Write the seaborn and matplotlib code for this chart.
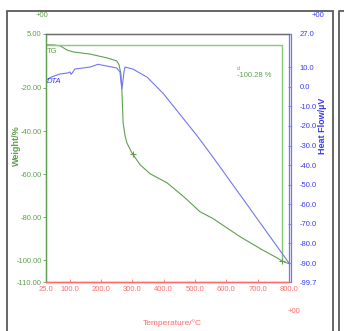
import matplotlib
matplotlib.use("Agg")
import matplotlib.pyplot as plt
import seaborn as sns
from matplotlib.patches import Rectangle
from matplotlib.lines import Line2D

# TG curve (weight loss, %)
temp_tg = [25, 50, 70, 92, 111, 165, 220, 251, 258, 264, 267, 271, 277, 283,
           299, 325, 357, 411, 468, 516, 558, 644, 714, 762, 778, 800]
weight = [0, -0.1, -0.5, -2.4, -3.3, -4.3, -6.1, -7.5, -9.3, -13.5, -20.9,
          -36.2, -42.0, -45.5, -50.1, -55.6, -59.8, -64.0, -70.9, -77.4, -80.6, -89.0,
          -95.0, -98.8, -100.3, -101.5]

# DTA curve (heat flow, uV)
temp_dta = [25, 45, 70, 95, 101, 105, 110, 117, 165, 191, 220, 251, 261, 264, 267, 270,
            274, 277, 302, 347, 398, 452, 507, 558, 650, 800]
heat = [3.5, 5.2, 6.6, 7.1, 7.6, 6.4, 7.4, 9.1, 10.1, 11.5, 10.6, 9.6, 7.6, 3.0, -1.0,
        2.5, 8.0, 10.1, 9.1, 5.0, -3.2, -14.0, -25.0, -36.0, -56.5, -90.0]

x_ticks = [25, 100, 200, 300, 400, 500, 600, 700, 800]
left_ticks = [5, -20, -40, -60, -80, -100, -110]
right_ticks = [27, 10, 0, -10, -20, -30, -40, -50, -60, -70, -80, -90, -99.7]

end_temp = 778
end_loss = -100.28

green = "#5f9f4f"
green_lt = "#86c97a"
blue = "#7575f0"
blue_txt = "#3a3af0"
red = "#ff6b6b"
font = ["Liberation Sans Narrow", "Liberation Sans", "DejaVu Sans"]

sns.set_style("white")
plt.rcParams["font.family"] = font

fig = plt.figure(figsize=(3.44, 3.31), dpi=100)
ax = fig.add_axes([0.1337, 0.148, 0.7063, 0.7493])
ax2 = ax.twinx()

sns.lineplot(x=temp_tg, y=weight, ax=ax, color=green, linewidth=0.8)
sns.lineplot(x=temp_dta, y=heat, ax=ax2, color=blue, linewidth=0.8)

# baseline and end markers for TG
ax.plot([25, end_temp], [0, 0], color=green_lt, linewidth=1.0)
ax.plot([end_temp, end_temp], [0, end_loss], color=green_lt, linewidth=1.0)
ax.plot([302, end_temp], [-50.6, end_loss], linestyle="none", marker="+",
        color=green, markersize=5, markeredgewidth=0.8)
ax.text(634, -14.4, "-100.28 %", color=green, fontsize=5.5, va="center")
ax.text(634, -11.0, "d", color=green, fontsize=3.5, va="center")
ax.text(28, -2.9, "TG", color=green, fontsize=5.5, va="center")
ax2.text(28, 2.5, "DTA", color=blue_txt, fontsize=5.5, va="center", style="italic")

ax.set_xlim(25, 800)
ax.set_ylim(-110, 5)
ax2.set_ylim(-99.7, 27)

ax.set_xticks(x_ticks)
ax.set_xticklabels([f"{t:.1f}" for t in x_ticks])
ax.set_yticks(left_ticks)
ax.set_yticklabels([f"{t:.2f}" for t in left_ticks])
ax2.set_yticks(right_ticks)
ax2.set_yticklabels([f"{t:.1f}" for t in right_ticks])

ax.tick_params(axis="x", colors=red, labelcolor=red, labelsize=5.5, direction="in",
               length=2.5, width=0.6, bottom=True, pad=3)
ax.tick_params(axis="y", colors=green, labelcolor=green, labelsize=5.5, direction="out",
               length=2, width=0.6, left=True, pad=1)
ax2.tick_params(axis="y", colors=blue, labelcolor=blue_txt, labelsize=5.5, direction="in",
                length=2, width=0.6, right=True, pad=6)

for a in (ax, ax2):
    a.spines["top"].set_color("#6a6a6a")
    a.spines["top"].set_linewidth(0.9)
    a.spines["bottom"].set_color(red)
    a.spines["bottom"].set_linewidth(1.0)
    a.spines["left"].set_color(green)
    a.spines["left"].set_linewidth(0.9)
    a.spines["right"].set_color(blue)
    a.spines["right"].set_linewidth(0.9)
ax2.spines["right"].set_position(("outward", 1.5))
ax.set_xlabel("")
ax.set_ylabel("")
ax2.set_ylabel("")

fig.text(0.047, 0.56, "Weight/%", color=green, fontsize=6.5, rotation=90,
         ha="center", va="center", fontweight="bold", family=["Liberation Sans", "DejaVu Sans"])
fig.text(0.937, 0.62, "Heat Flow/\u00b5V", color=blue_txt, fontsize=6.5, rotation=90,
         ha="center", va="center", fontweight="bold", family=["Liberation Sans", "DejaVu Sans"])
fig.text(0.5, 0.024, "Temperature/\u00b0C", color=red, fontsize=6, ha="center", va="center")
fig.text(0.122, 0.952, "+00", color=green, fontsize=5.5, ha="center", va="center")
fig.text(0.924, 0.952, "+00", color=blue_txt, fontsize=5.5, ha="center", va="center")
fig.text(0.855, 0.06, "+00", color=red, fontsize=5.5, ha="center", va="center")

# outer frames
fig.patches.append(Rectangle((0.02, -0.02), 0.948, 0.987, transform=fig.transFigure,
                             fill=False, edgecolor="#5a5a5a", linewidth=1.3))
fig.lines.append(Line2D([0.985, 0.985, 1.0], [0.0, 0.967, 0.967], transform=fig.transFigure,
                        color="#5a5a5a", linewidth=1.3))

fig.savefig("out.png", dpi=100)
